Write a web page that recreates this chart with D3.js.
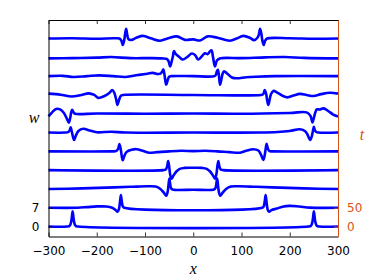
<!DOCTYPE html>
<html>
<head>
<meta charset="utf-8">
<script src="https://cdn.jsdelivr.net/npm/d3@7"></script>
<style>
  html, body { margin: 0; padding: 0; background: #ffffff; }
  svg { display: block; }
</style>
</head>
<body>
<svg id="chart" width="374" height="280"></svg>
<script>
// ---------------- data ----------------
const xTicks = [-300, -200, -100, 0, 100, 200, 300];
const times = [0, 50, 100, 150, 200, 250, 300, 350, 400, 450, 500];
const wTickLabels = [0, 7];
const tTickLabels = [0, 50];
const waterfallStep = 7;          // vertical offset (in w units) between successive times

// profiles w(x) at each time, as [x, w] pairs
const w_t0 = [[-300,0],[-262,0],[-256,0.3],[-253,1.8],[-251,4.5],[-250,5.7],[-249,4.5],[-247,1.8],[-244,0.3],[-238,0],
  [238,0],[244,0.3],[247,1.8],[249,4.5],[250,5.7],[251,4.5],[253,1.8],[256,0.3],[262,0],[300,0]];
const w_t50 = [[-300,0],[-240,0],[-220,0.25],[-200,0.5],[-180,0.45],[-168,0],[-161,-0.8],[-157,-1.5],[-154,-0.5],[-152,2.0],[-150,4.7],[-148,2.2],[-146,0.5],[-143,0],
  [143,0],[146,0.5],[148,2.2],[150,4.7],[152,2.0],[154,-0.5],[157,-1.5],[162,-0.9],[173,-0.3],[185,0.4],[200,0.7],[220,0.45],[242,0.05],[300,0]];
const w_t100 = [[-300,0],[-230,0.2],[-180,0.5],[-130,0.8],[-95,1.0],[-78,0.9],[-68,0],[-61,-1.4],[-56,-2.5],[-53,-1.0],[-51,2.0],[-49.5,3.9],[-48,2.0],[-46,0.3],[-43,-0.2],[0,-0.3],
  [43,-0.2],[46,0.3],[48,2.0],[49.5,3.9],[51,2.0],[53,-1.0],[56,-2.5],[61,-1.4],[68,0],[78,0.9],[95,1.0],[130,0.8],[180,0.5],[230,0.2],[300,0]];
const w_t150 = [[-300,0],[-62,0],[-57,0.2],[-54,1.5],[-52,3.4],[-50,1.5],[-48,-1.5],[-45,-3.2],[-41,-2.0],[-35,-0.5],[-28,0.5],[-18,0.85],[0,0.9],
  [18,0.85],[28,0.5],[35,-0.5],[41,-2.0],[45,-3.2],[48,-1.5],[50,1.5],[52,3.4],[54,1.5],[57,0.2],[62,0],[300,0]];
const w_t200 = [[-300,0],[-170,0],[-160,0.1],[-156,0.8],[-153,2.7],[-150,0.5],[-148,-2.0],[-146,-3.3],[-143,-1.8],[-138,-0.2],[-128,0.6],[-117,0.8],[-105,0.2],[-92,-0.5],[-75,-0.3],[-50,0],[-25,0.2],[0,0.1],
  [25,0.2],[50,0],[75,-0.3],[97,-0.5],[110,0.2],[124,0.8],[135,0.3],[141,-1.5],[145,-3.2],[148,-1.5],[150,0.8],[152,2.8],[155,0.8],[158,0.1],[165,0],[300,0]];
const w_t250 = [[-300,0],[-265,0],[-259,0.2],[-256,0.9],[-254,2.0],[-252,0.6],[-249,-1.8],[-247,-2.8],[-244,-1.5],[-238,0.6],[-228,1.4],[-215,0.8],[-200,0.1],[-170,0.3],[-140,0],[0,0],
  [140,0],[175,0.2],[200,0.6],[221,1.2],[232,0.5],[238,-1.2],[242,-2.8],[245,-1.8],[248,0.6],[250,2.1],[252,0.9],[255,0.2],[260,0],[300,0]];
const w_t300 = [[-300,-1.0],[-292,0.6],[-284,1.8],[-276,1.6],[-268,0.3],[-262,-1.8],[-258,-3.3],[-255,-1.5],[-253,0.5],[-251,1.5],[-248,0.5],[-245,0],[-200,0.1],[-100,0],[0,0.1],
  [100,0],[200,0.3],[235,0.5],[243,-0.8],[247,-3.2],[250,-1.5],[253,0.5],[256,1.6],[262,1.6],[270,2.0],[280,1.0],[290,-0.3],[300,-1.0]];
const w_t350 = [[-300,0.5],[-275,0.1],[-252,-0.6],[-232,0],[-217,0.6],[-205,0],[-197,-1.1],[-185,-0.5],[-174,0.7],[-168,1.8],[-164,1.0],[-160,-1.5],[-157,-3.7],[-154,-2.0],[-150,-0.3],[-145,0],[0,0],
  [140,0],[145,0.3],[148,1.8],[151,0.5],[153,-1.8],[155.5,-3.7],[158,-2.0],[161,0.2],[166,1.5],[175,0.8],[185,-0.3],[195,-0.9],[208,-0.2],[221,0.4],[235,0],[249,-0.4],[265,0.3],[283,0.8],[300,0.5]];
const w_t400 = [[-300,0],[-270,0.1],[-248,-0.3],[-220,0],[-195,0.3],[-165,0],[-140,-0.3],[-115,0.4],[-95,0.9],[-84,1.2],[-74,0.8],[-68,0.9],[-64,1.8],[-62,2.5],[-60,1.0],[-58,-1.5],[-56,-3.2],[-53,-1.5],[-50,-0.2],[-46,0],[0,0],
  [44,0],[47,0.5],[49,1.8],[51,2.4],[53,0.5],[55.5,-3.2],[58,-1.5],[61,1.0],[64,1.8],[70,1.0],[80,-0.5],[90,-0.8],[110,-0.4],[130,-0.2],[170,0],[300,0]];
const w_t450 = [[-300,-0.4],[-250,-0.3],[-200,-0.1],[-170,0.1],[-130,-0.3],[-90,-0.3],[-65,-0.4],[-55,-0.6],[-51,-1.5],[-48,-3.4],[-44,-1.0],[-42,0.5],[-40,2.3],[-36,1.2],[-30,0.3],[-22,-0.8],[-12,0.2],[-3,1.4],[4,0.8],
  [10,-0.8],[17,0.2],[24,1.5],[30,1.2],[35,2.3],[38,2.6],[41,0],[45,-3.4],[49,-1.2],[55,-0.4],[100,-0.3],[150,0],[190,0.1],[230,-0.2],[300,-0.4]];
const w_t500 = [[-300,0],[-250,0.1],[-200,-0.1],[-165,0.1],[-153,0],[-149,-0.8],[-146,-2.4],[-143,-0.5],[-141,2.0],[-139,3.6],[-137,1.5],[-134,-0.3],[-128,-0.5],[-118,0.3],[-104,1.0],[-88,0.1],[-69,-0.8],[-52,0.1],[-34,0.8],[-17,-0.5],[0,-0.3],
  [14,-0.7],[30,0.8],[50,0.3],[76,-0.8],[90,0],[104,1.0],[118,0.2],[126,-0.6],[133,0.3],[136,1.5],[138.5,3.6],[141,2.0],[143,-0.5],[146,-2.4],[149,-0.8],[153,0],[200,0.1],[250,-0.1],[300,0]];

const profiles = [w_t0, w_t50, w_t100, w_t150, w_t200, w_t250, w_t300, w_t350, w_t400, w_t450, w_t500];

// ---------------- layout ----------------
const plot = { left: 48.5, right: 338, top: 20, bottom: 236.5 };
const orange = "#D95319";
const svg = d3.select("#chart");

const x = d3.scaleLinear().domain([-300, 300]).range([plot.left, plot.right]);
const y = d3.scaleLinear().domain([-3.7, 76.9]).range([plot.bottom, plot.top]);
const tPerW = tTickLabels[1] / wTickLabels[1];
const yT = d3.scaleLinear().domain(y.domain().map(d => d * tPerW)).range([plot.bottom, plot.top]);

// curves
const line = d3.line().curve(d3.curveCatmullRom.alpha(0.5));
svg.append("g").selectAll("path").data(profiles).join("path")
  .attr("d", (p, i) => line.x(d => x(d[0])).y(d => y(d[1] + i * waterfallStep))(p))
  .attr("fill", "none")
  .attr("stroke", "#0000ff")
  .attr("stroke-width", 2.6)
  .attr("stroke-linejoin", "round")
  .attr("stroke-linecap", "butt");

// axes
const fontSans = "'DejaVu Sans', sans-serif";
const bottomAxis = d3.axisBottom(x).tickValues(xTicks).tickSizeInner(-4).tickSizeOuter(0).tickPadding(10).tickFormat(d3.format("d"));
const gB = svg.append("g").attr("transform", `translate(0,${plot.bottom})`).call(bottomAxis);
const topAxis = d3.axisTop(x).tickValues(xTicks).tickSizeInner(-4).tickSizeOuter(0).tickFormat("");
const gT = svg.append("g").attr("transform", `translate(0,${plot.top})`).call(topAxis);
const leftAxis = d3.axisLeft(y).tickValues(wTickLabels).tickSizeInner(-4).tickSizeOuter(0).tickPadding(9);
const gL = svg.append("g").attr("transform", `translate(${plot.left},0)`).call(leftAxis);
const rightAxis = d3.axisRight(yT).tickValues(tTickLabels).tickSizeInner(-4).tickSizeOuter(0).tickPadding(9);
const gR = svg.append("g").attr("transform", `translate(${plot.right},0)`).call(rightAxis);

[gB, gT, gL].forEach(g => {
  g.select(".domain").attr("stroke", "#000").attr("stroke-width", 1);
  g.selectAll(".tick line").attr("stroke", "#000").attr("stroke-width", 0.8);
  g.selectAll("text").attr("fill", "#000").style("font-family", fontSans).style("font-size", "12px");
});
gR.select(".domain").attr("stroke", orange).attr("stroke-width", 1);
gR.selectAll(".tick line").attr("stroke", orange).attr("stroke-width", 0.8);
gR.selectAll("text").attr("fill", orange).style("font-family", fontSans).style("font-size", "12px");

// axis labels
const fontSerif = "'Liberation Serif', 'DejaVu Serif', serif";
svg.append("text").text("x").attr("x", (plot.left + plot.right) / 2).attr("y", 274)
  .attr("text-anchor", "middle").style("font-family", fontSerif).style("font-style", "italic").style("font-size", "16px").attr("fill", "#000");
svg.append("text").text("w").attr("x", 34).attr("y", 122.5)
  .attr("text-anchor", "middle").style("font-family", fontSerif).style("font-style", "italic").style("font-size", "16px").attr("fill", "#000");
svg.append("text").text("t").attr("x", 362).attr("y", 140)
  .attr("text-anchor", "middle").style("font-family", fontSerif).style("font-style", "italic").style("font-size", "16px").attr("fill", orange);
</script>
</body>
</html>
